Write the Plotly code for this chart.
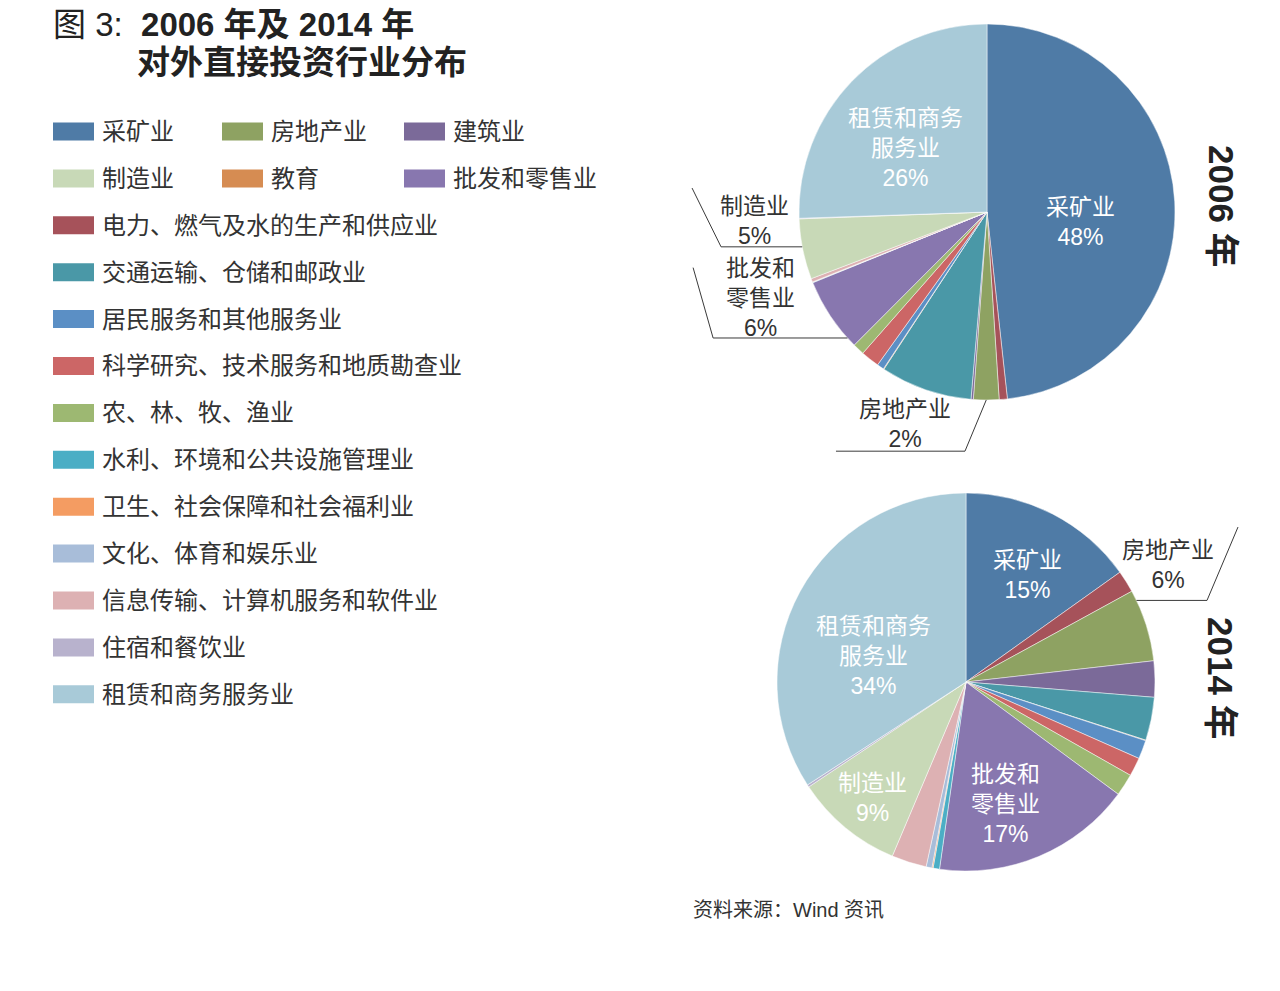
import math
import plotly.graph_objects as go

# ---------------- data ----------------
industries = [
    "采矿业", "电力、燃气及水的生产和供应业", "房地产业", "建筑业",
    "交通运输、仓储和邮政业", "教育", "居民服务和其他服务业",
    "科学研究、技术服务和地质勘查业", "农、林、牧、渔业", "批发和零售业",
    "水利、环境和公共设施管理业", "卫生、社会保障和社会福利业",
    "文化、体育和娱乐业", "信息传输、计算机服务和软件业", "制造业",
    "住宿和餐饮业", "租赁和商务服务业",
]
share_2006 = [48.4, 0.7, 2.2, 0.2, 7.9, 0.05, 0.6, 1.6, 1.0, 6.4,
              0.05, 0.01, 0.01, 0.3, 5.2, 0.05, 25.6]
share_2014 = [15.2, 1.9, 6.2, 3.1, 3.7, 0.05, 1.6, 1.6, 1.9, 17.2,
              0.55, 0.1, 0.5, 3.0, 9.3, 0.2, 34.3]
colors = [
    "#4F7BA6", "#A6525A", "#8EA262", "#7B6A99", "#4A98A7", "#D68C52",
    "#5B8FC5", "#CC6666", "#9DB872", "#8877AF", "#4BAEC5", "#F49C62",
    "#A8BDD9", "#DDB1B3", "#C8D9B7", "#B8B2CD", "#A8CAD8",
]
legend_grid = [["采矿业", "房地产业", "建筑业"], ["制造业", "教育", "批发和零售业"]]
legend_list = [
    "电力、燃气及水的生产和供应业", "交通运输、仓储和邮政业", "居民服务和其他服务业",
    "科学研究、技术服务和地质勘查业", "农、林、牧、渔业", "水利、环境和公共设施管理业",
    "卫生、社会保障和社会福利业", "文化、体育和娱乐业", "信息传输、计算机服务和软件业",
    "住宿和餐饮业", "租赁和商务服务业",
]
# slice label text lines
short_names = {
    "采矿业": ["采矿业"], "租赁和商务服务业": ["租赁和商务", "服务业"],
    "制造业": ["制造业"], "批发和零售业": ["批发和", "零售业"], "房地产业": ["房地产业"],
}
year_titles = ["2006 年", "2014 年"]

# ---------------- layout helpers ----------------
W, H = 1280, 991
FONT = "Liberation Sans, Noto Sans CJK SC"
TXT = "#333333"


def P(x, y):
    return x / W, 1 - y / H


pies = [
    dict(values=share_2006, cx=987, cy=212, r=188, year_y=206,
         labels=[  # name, inside?, angle shift, radius factor
             ("采矿业", True, 9.1, 0.50),
             ("租赁和商务服务业", True, -6.1, 0.55),
             ("制造业", False, 9.2, 1.24),
             ("批发和零售业", False, 12.9, 1.29),
             ("房地产业", False, 20.9, 1.21),
         ],
         leaders=[  # name, fraction inside slice, path (label-relative)
             ("制造业", 0.54, [("h", -33), ("p", -62, -33)]),
             ("批发和零售业", 0.13, [("h", -47), ("p", -67, -30)]),
             ("房地产业", 0.5, [("p", 60, 27), ("h", -69)]),
         ]),
    dict(values=share_2014, cx=966, cy=682, r=189, year_y=678,
         labels=[
             ("采矿业", True, 2.6, 0.65),
             ("租赁和商务服务业", True, -12.9, 0.51),
             ("制造业", True, -0.9, 0.79),
             ("批发和零售业", True, 4.8, 0.68),
             ("房地产业", False, -12.5, 1.235),
         ],
         leaders=[
             ("房地产业", 0.14, [("h", 39), ("p", 70, -38)]),
         ]),
]

fig = go.Figure()
annotations = []
shapes = []

for pdef in pies:
    vals = pdef["values"]
    cx, cy, r = pdef["cx"], pdef["cy"], pdef["r"]
    x0, y1 = P(cx - r, cy - r)
    x1, y0 = P(cx + r, cy + r)
    fig.add_trace(go.Pie(
        labels=industries, values=vals, sort=False, direction="clockwise",
        rotation=0, textinfo="none", showlegend=False,
        marker=dict(colors=colors, line=dict(color="rgba(255,255,255,0.8)", width=0.6)),
        domain=dict(x=[x0, x1], y=[y0, y1]),
        hovertemplate="%{label}: %{percent}<extra></extra>",
    ))
    total = sum(vals)
    starts, cum = [], 0.0
    for v in vals:
        starts.append(cum / total * 360)
        cum += v
    ends = starts[1:] + [360.0]

    def polar(theta, k):
        t = math.radians(theta)
        return cx + k * r * math.sin(t), cy - k * r * math.cos(t)

    centers = {}
    for name, inside, dth, k in pdef["labels"]:
        i = industries.index(name)
        mid = (starts[i] + ends[i]) / 2
        lx, ly = polar(mid + dth, k)
        centers[name] = (lx, ly)
        pct = f"{round(vals[i] / total * 100)}%"
        lines = short_names[name] + [pct]
        ax, ay = P(lx, ly)
        annotations.append(dict(
            x=ax, y=ay, xref="paper", yref="paper", text="<br>".join(lines),
            showarrow=False, xanchor="center", yanchor="middle", align="center",
            font=dict(family=FONT, size=23, color="white" if inside else TXT),
        ))

    for name, frac, path in pdef["leaders"]:
        i = industries.index(name)
        th = starts[i] + frac * (ends[i] - starts[i])
        ex, ey = polar(th, 1.0)
        lx, ly = centers[name]
        pts = [(ex, ey)]
        for seg in path:
            if seg[0] == "h":
                pts.append((lx + seg[1], pts[-1][1]))
            else:
                pts.append((lx + seg[1], ly + seg[2]))
        d = ""
        for j, (qx, qy) in enumerate(pts):
            a, b = P(qx, qy)
            d += ("M" if j == 0 else "L") + f"{a:.5f},{b:.5f} "
        shapes.append(dict(type="path", path=d.strip(), xref="paper", yref="paper",
                           line=dict(color="#3a3a3a", width=1)))

for title, pdef in zip(year_titles, pies):
    ax, ay = P(1221, pdef["year_y"])
    annotations.append(dict(
        x=ax, y=ay, xref="paper", yref="paper", text=f"<b>{title}</b>",
        showarrow=False, textangle=90, xanchor="center", yanchor="middle",
        font=dict(family=FONT, size=35, color="#222222"),
    ))

# ---------------- legend (custom layout) ----------------
row0, row_step = 131.5, 46.9
sw_w, sw_h = 41, 18
grid_x = [53, 222, 404]


def legend_item(name, sx, cy):
    c = colors[industries.index(name)]
    a0, b1 = P(sx, cy - sw_h / 2)
    a1, b0 = P(sx + sw_w, cy + sw_h / 2)
    shapes.append(dict(type="rect", xref="paper", yref="paper", x0=a0, x1=a1,
                       y0=b0, y1=b1, fillcolor=c, line=dict(width=0)))
    tx, ty = P(sx + 47, cy)
    annotations.append(dict(
        x=tx, y=ty, xref="paper", yref="paper", text=name, showarrow=False,
        xanchor="left", yanchor="middle", font=dict(family=FONT, size=24, color=TXT),
    ))


for ri, row in enumerate(legend_grid):
    for ci, name in enumerate(row):
        legend_item(name, grid_x[ci], row0 + ri * row_step)
for k, name in enumerate(legend_list):
    legend_item(name, grid_x[0], row0 + (len(legend_grid) + k) * row_step)

# ---------------- titles / source ----------------
tx, ty = P(52, 24)
annotations.append(dict(x=tx, y=ty, xref="paper", yref="paper", showarrow=False,
                        xanchor="left", yanchor="middle", borderpad=0,
                        text="图 3:&nbsp; <b>2006 年及 2014 年</b>",
                        font=dict(family=FONT, size=33, color="#222222")))
tx, ty = P(136, 63)
annotations.append(dict(x=tx, y=ty, xref="paper", yref="paper", showarrow=False,
                        xanchor="left", yanchor="middle", borderpad=0,
                        text="<b>对外直接投资行业分布</b>",
                        font=dict(family=FONT, size=33, color="#222222")))
tx, ty = P(691, 910)
annotations.append(dict(x=tx, y=ty, xref="paper", yref="paper", showarrow=False,
                        xanchor="left", yanchor="middle",
                        text="资料来源：Wind 资讯",
                        font=dict(family=FONT, size=20, color=TXT)))

fig.update_layout(
    width=W, height=H, margin=dict(l=0, r=0, t=0, b=0),
    paper_bgcolor="white", plot_bgcolor="white",
    annotations=annotations, shapes=shapes, showlegend=False,
)

fig.write_html("out.html", config={"displayModeBar": False},
               post_script="document.body.style.margin='0';document.body.style.overflow='hidden';")
